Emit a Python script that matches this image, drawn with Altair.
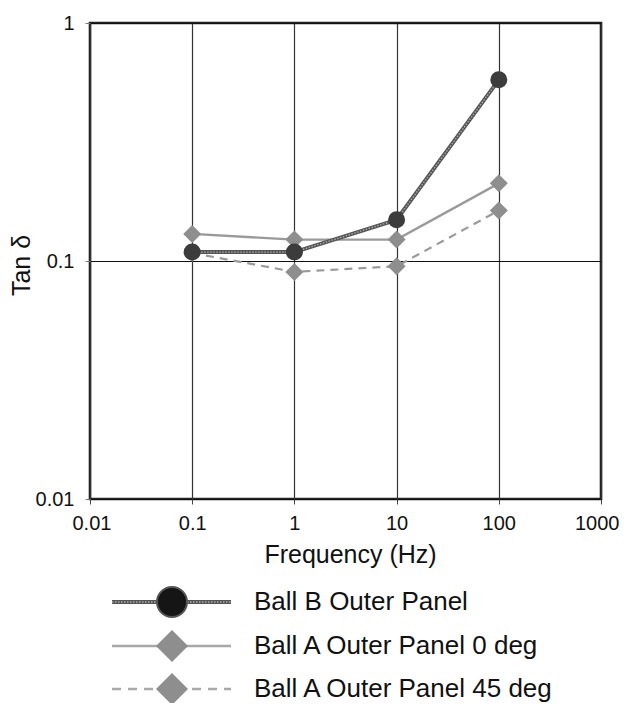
import altair as alt
import pandas as pd

# ---- data ----
freq = [0.1, 1, 10, 100]
ball_b = [0.109, 0.109, 0.149, 0.577]
ball_a0 = [0.130, 0.123, 0.123, 0.212]
ball_a45 = [0.108, 0.090, 0.095, 0.163]

names = ["Ball B Outer Panel", "Ball A Outer Panel 0 deg", "Ball A Outer Panel 45 deg"]
x_ticks = [0.01, 0.1, 1, 10, 100, 1000]
y_ticks = [0.01, 0.1, 1]

FONT = "Liberation Sans"
W, H = 511, 476

df_b = pd.DataFrame({"f": freq, "v": ball_b})
df_a0 = pd.DataFrame({"f": freq, "v": ball_a0})
df_a45 = pd.DataFrame({"f": freq, "v": ball_a45})

xenc = alt.X(
    "f:Q",
    scale=alt.Scale(type="log", domain=[0.01, 1000], nice=False),
    axis=alt.Axis(
        values=x_ticks, format="~g", title="Frequency (Hz)",
        grid=True, gridColor="#333", gridWidth=1.2,
        domain=False, tickColor="#444", tickSize=5, labelPadding=9,
        labelFlush=True, labelFlushOffset=18, labelOverlap=False,
        labelFont=FONT, labelFontSize=20, labelColor="#111",
        titleFont=FONT, titleFontSize=25, titleFontWeight="normal", titleColor="#111",
        titleX=260, titleY=43, titleBaseline="top", titleAlign="center",
    ),
)
yenc = alt.Y(
    "v:Q",
    scale=alt.Scale(type="log", domain=[0.01, 1], nice=False),
    axis=alt.Axis(
        values=y_ticks, format="~g", title="Tan δ",
        grid=True, gridColor="#111", gridWidth=1.2,
        domain=False, tickColor="#777", tickSize=5, labelPadding=11,
        labelFlush=False, labelOverlap=False,
        labelFont=FONT, labelFontSize=20, labelColor="#111",
        titleFont=FONT, titleFontSize=25, titleFontWeight="normal", titleColor="#111",
        titleX=-69, titleY=242, titleBaseline="middle", titleAlign="center", titleAngle=-90,
    ),
)

line_a45 = alt.Chart(df_a45).mark_line(color="#9a9a9a", strokeWidth=2.2, strokeDash=[8, 6]).encode(x=xenc, y=yenc)
line_a0 = alt.Chart(df_a0).mark_line(color="#9a9a9a", strokeWidth=2.4).encode(x=xenc, y=yenc)
line_b1 = alt.Chart(df_b).mark_line(color="#555", strokeWidth=4).encode(x=xenc, y=yenc)
line_b2 = alt.Chart(df_b).mark_line(color="#aaa", strokeWidth=1.4, strokeDash=[1.5, 1.5]).encode(x=xenc, y=yenc)

pts_a45 = alt.Chart(df_a45).mark_point(shape="diamond", filled=True, color="#8e8e8e", size=324, opacity=1).encode(x=xenc, y=yenc)
pts_a0 = alt.Chart(df_a0).mark_point(shape="diamond", filled=True, color="#8e8e8e", size=324, opacity=1).encode(x=xenc, y=yenc)
pts_b = alt.Chart(df_b).mark_point(shape="circle", filled=True, color="#3c3c3c", size=289, opacity=1).encode(x=xenc, y=yenc)

# ---- custom legend below the plot ----
leg_rows = [579, 623, 666]
lx1, lx2, lmx, ltx = 22, 141, 82, 164
leg_layers = []
for i, name in enumerate(names):
    d = pd.DataFrame({"label": [name]})
    yv = leg_rows[i]
    base = alt.Chart(d)
    if i == 0:
        leg_layers.append(base.mark_rule(color="#555", strokeWidth=4).encode(
            x=alt.value(lx1), x2=alt.value(lx2), y=alt.value(yv)))
        leg_layers.append(base.mark_rule(color="#aaa", strokeWidth=1.4, strokeDash=[1.5, 1.5]).encode(
            x=alt.value(lx1), x2=alt.value(lx2), y=alt.value(yv)))
        leg_layers.append(base.mark_point(shape="circle", filled=False, stroke="#555", strokeWidth=2,
                                          fill="#151515", size=900, opacity=1).encode(
            x=alt.value(lmx), y=alt.value(yv)))
    else:
        rule_kw = dict(color="#a8a8a8", strokeWidth=2.4)
        if i == 2:
            rule_kw["strokeDash"] = [9, 7]
        leg_layers.append(base.mark_rule(**rule_kw).encode(
            x=alt.value(lx1), x2=alt.value(lx2), y=alt.value(yv)))
        leg_layers.append(base.mark_point(shape="diamond", filled=True, color="#8e8e8e", size=1024, opacity=1).encode(
            x=alt.value(lmx), y=alt.value(yv)))
    leg_layers.append(base.mark_text(align="left", baseline="middle", font=FONT, fontSize=26, color="#111").encode(
        x=alt.value(ltx), y=alt.value(yv), text="label:N"))

chart = alt.layer(
    line_a45, line_a0, line_b1, line_b2, pts_a45, pts_a0, pts_b, *leg_layers
).properties(
    width=W, height=H,
    autosize=alt.AutoSizeParams(type="none"),
    padding={"left": 82, "top": 15, "right": 21, "bottom": 204},
    background="white",
).configure_view(
    stroke="#222", strokeWidth=2.6
)

chart.save("out.html", embed_options={"renderer": "svg", "actions": False})
